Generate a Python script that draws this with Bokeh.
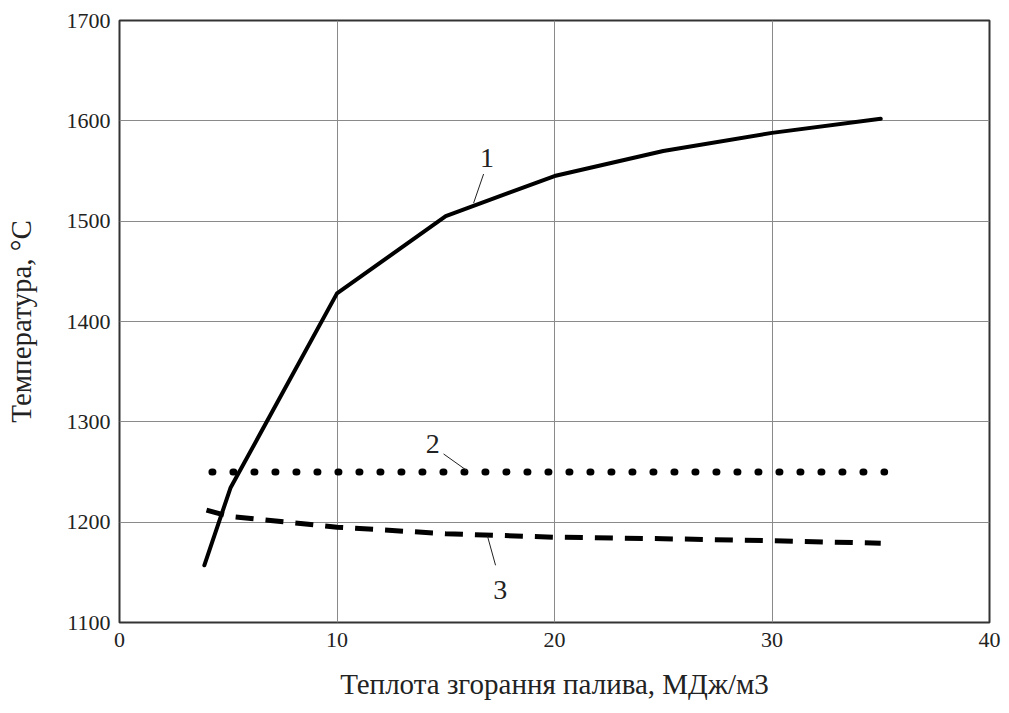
from bokeh.plotting import figure
from bokeh.models import Range1d, FixedTicker
from bokeh.core.properties import value
from bokeh.embed import file_html
from bokeh.resources import INLINE

# Data
x1 = [3.9, 5.1, 10, 15, 20, 25, 30, 35]
y1 = [1157, 1234, 1428, 1505, 1545, 1570, 1588, 1602]

x2 = [4.25, 35.18]
y2 = [1250, 1250]

x3 = [4.0, 5, 10, 15, 20, 25, 30, 35]
y3 = [1212, 1206, 1195, 1188.5, 1185, 1183.5, 1181.5, 1179]

label_text = ["1", "2", "3"]
label_x = [16.9, 14.4, 17.5]
label_y = [1563, 1278, 1132]
leader_x0 = [16.74, 14.9, 16.92]
leader_y0 = [1547, 1268, 1186]
leader_x1 = [16.28, 16.0, 17.29]
leader_y1 = [1518, 1251, 1157]

x_ticks = [0, 10, 20, 30, 40]
y_ticks = [1100, 1200, 1300, 1400, 1500, 1600, 1700]

FONT = "Liberation Serif"

p = figure(width=1001, height=703, output_backend="svg", toolbar_location=None,
           x_range=Range1d(0, 40), y_range=Range1d(1100, 1700),
           min_border_left=119, min_border_right=12, min_border_top=20,
           min_border_bottom=81,
           x_axis_label="Теплота згорання палива, МДж/м3",
           y_axis_label="Температура, °С")
p.background_fill_color = "white"
p.border_fill_color = "white"
p.outline_line_color = "#333333"
p.outline_line_width = 2

p.xaxis.ticker = FixedTicker(ticks=x_ticks)
p.yaxis.ticker = FixedTicker(ticks=y_ticks)

p.axis.axis_line_color = None
p.axis.major_tick_line_color = None
p.axis.minor_tick_line_color = None
p.axis.major_label_text_font = FONT
p.axis.major_label_text_font_size = "22px"
p.axis.major_label_text_color = "#222222"
p.axis.axis_label_text_font = FONT
p.axis.axis_label_text_font_size = "29px"
p.axis.axis_label_text_font_style = "normal"
p.axis.axis_label_text_color = "#222222"

p.xaxis.major_label_standoff = 4
p.yaxis.major_label_standoff = 3
p.xaxis.axis_label_standoff = 18
p.yaxis.axis_label_standoff = 27

p.xgrid.grid_line_color = "#8a8a8a"
p.ygrid.grid_line_color = "#8a8a8a"
p.xgrid.grid_line_width = 1
p.ygrid.grid_line_width = 1

# Curve 1 (solid)
p.line(x1, y1, line_color="black", line_width=4, line_join="round", line_cap="round")
# Curve 2 (dotted)
p.line(x2, y2, line_color="black", line_width=7, line_dash="1 20", line_cap="round")
# Curve 3 (dashed)
p.line(x3, y3, line_color="black", line_width=5, line_dash="18 12")

# Leaders and labels
p.segment(leader_x0, leader_y0, leader_x1, leader_y1, line_color="#222222", line_width=1)
p.text(label_x, label_y, text=label_text, text_font=value(FONT), text_font_size="28px",
       text_align="center", text_baseline="middle", text_color="#222222")

open("out.html", "w").write(file_html(p, INLINE))
